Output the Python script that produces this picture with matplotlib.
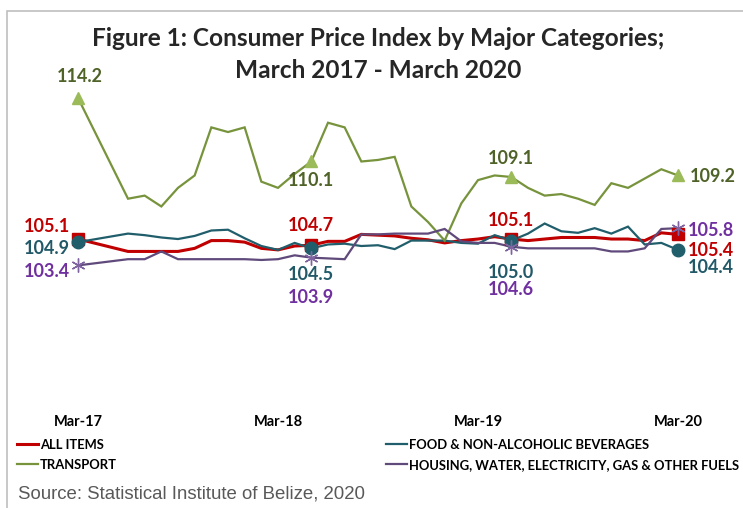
import pandas as pd
import matplotlib.pyplot as plt
from matplotlib.patches import Rectangle


# monthly periods Mar-17 .. Mar-20, Apr-17 and May-17 have no data
MONTHS = pd.period_range("2017-03", "2020-03", freq="M")
DATA_MONTHS = [m for m in MONTHS if str(m) not in ("2017-04", "2017-05")]
LABEL_MONTHS = ["2017-03", "2018-05", "2019-05", "2020-03"]
TICK_MONTHS = ["2017-03", "2018-03", "2019-03", "2020-03"]
TICK_LABELS = ["Mar-17", "Mar-18", "Mar-19", "Mar-20"]

all_items = [105.1, 104.3, 104.3, 104.3, 104.3, 104.5, 105.0, 105.0, 104.9, 104.5,
             104.4, 104.65, 104.7, 104.95, 104.95, 105.4, 105.35, 105.3, 105.15, 105.05,
             104.85, 105.0, 105.1, 105.25, 105.1, 105.0, 105.1, 105.2, 105.2, 105.2,
             105.1, 105.1, 105.0, 105.5, 105.4]
food = [104.9, 105.45, 105.35, 105.2, 105.1, 105.3, 105.65, 105.7, 105.15, 104.65,
        104.4, 104.85, 104.5, 104.75, 104.8, 104.65, 104.7, 104.45, 105.0, 105.0,
        105.0, 104.85, 104.8, 105.35, 105.0, 105.45, 106.1, 105.6, 105.5, 105.8,
        105.45, 105.9, 104.75, 104.85, 104.4]
transport = [114.2, 107.7, 107.9, 107.2, 108.4, 109.2, 112.3, 112.0, 112.3, 108.8,
             108.4, 109.3, 110.1, 112.6, 112.3, 110.1, 110.2, 110.4, 107.2, 106.2,
             105.0, 107.4, 108.9, 109.2, 109.1, 108.4, 107.9, 108.0, 107.7, 107.3,
             108.7, 108.4, 109.0, 109.6, 109.2]
housing = [103.4, 103.8, 103.8, 104.3, 103.8, 103.8, 103.8, 103.8, 103.8, 103.75,
           103.8, 104.05, 103.9, 103.85, 103.8, 105.4, 105.4, 105.45, 105.45, 105.45,
           105.75, 104.95, 104.85, 104.85, 104.6, 104.5, 104.5, 104.5, 104.5, 104.5,
           104.3, 104.3, 104.5, 105.75, 105.8]

plt.rcParams["font.family"] = ["Lato", "DejaVu Sans"]

x = [list(MONTHS.astype(str)).index(str(m)) for m in DATA_MONTHS]
df = pd.DataFrame({"x": x, "all": all_items, "food": food,
                   "transport": transport, "housing": housing})
marked = df[[str(m) in LABEL_MONTHS for m in DATA_MONTHS]]

fig = plt.figure(figsize=(7.43, 5.08), dpi=100)
fig.patches.append(Rectangle((7 / 743, -0.1), 1.2, (508 - 11) / 508 + 0.1,
                             transform=fig.transFigure, fill=False,
                             edgecolor="#bfbfbf", linewidth=1.2))
ax = fig.add_axes([28 / 743, 108 / 508, 700 / 743, 330 / 508])

series = [
    ("all", "ALL ITEMS", "#c00000", "#c00000", "#c00000", "s", 2.2, 9),
    ("food", "FOOD & NON-ALCOHOLIC BEVERAGES", "#215e6c", "#215e6c", "#215968", "o", 1.6, 9),
    ("transport", "TRANSPORT", "#77933c", "#9bbb59", "#4f6228", "^", 1.6, 9),
    ("housing", "HOUSING, WATER, ELECTRICITY, GAS & OTHER FUELS", "#604a7b", "#8064a2", "#7030a0", (6, 2, 0), 1.6, 10),
]

# label offsets in pixels for the four marked months
offsets = {
    "all": [(-8, 13, "right"), (0, 20, "center"), (0, 19, "center"), (10, -16, "left")],
    "food": [(-8, -6, "right"), (0, -26, "center"), (0, -32, "center"), (10, -18, "left")],
    "transport": [(2, 21, "center"), (0, -19, "center"), (0, 19, "center"), (12, -1, "left")],
    "housing": [(-8, -6, "right"), (0, -40, "center"), (0, -43, "center"), (10, -2, "left")],
}

handles = {}
for key, label, color, mcolor, tcolor, marker, lw, ms in series:
    line, = ax.plot(df["x"], df[key], color=color, linewidth=lw, label=label,
                    solid_joinstyle="miter", zorder=2)
    handles[key] = line
    ax.plot(marked["x"], marked[key], linestyle="none", marker=marker,
            markersize=ms, color=mcolor, markeredgewidth=1.0, zorder=3)
    for (xv, yv), (dx, dy, ha) in zip(zip(marked["x"], marked[key]), offsets[key]):
        ax.annotate(f"{yv:.1f}", (xv, yv), xytext=(dx, dy), textcoords="offset pixels",
                    ha=ha, va="center", color=tcolor, fontsize=13, fontweight="bold")

ax.set_xlim(-3, 39)
ax.set_ylim(94.72, 116.0)
ax.set_xticks([list(MONTHS.astype(str)).index(m) for m in TICK_MONTHS])
ax.set_xticklabels(TICK_LABELS, fontsize=10.5, fontweight="bold")
ax.tick_params(axis="x", length=0, pad=11)
ax.set_yticks([])
for side in ax.spines.values():
    side.set_visible(False)

fig.text(378 / 743, 1 - 38 / 508, "Figure 1: Consumer Price Index by Major Categories;",
         ha="center", va="center", fontsize=17.6, fontweight="bold", color="#262626")
fig.text(378 / 743, 1 - 70 / 508, "March 2017 - March 2020",
         ha="center", va="center", fontsize=17.6, fontweight="bold", color="#262626")

fig.legend([handles["all"], handles["transport"], handles["food"], handles["housing"]],
           ["ALL ITEMS", "TRANSPORT", "FOOD & NON-ALCOHOLIC BEVERAGES",
            "HOUSING, WATER, ELECTRICITY, GAS & OTHER FUELS"],
           ncol=2, loc="upper left", bbox_to_anchor=(17 / 743, 1 - 439 / 508),
           frameon=False, prop={"weight": "bold", "size": 9.4},
           handlelength=1.6, handletextpad=0.15, columnspacing=20.6, labelspacing=0.6,
           borderpad=0, borderaxespad=0)

fig.text(18 / 743, 1 - 494 / 508, "Source: Statistical Institute of Belize, 2020",
         ha="left", va="center", fontsize=13.4, color="#595959", family="Liberation Sans")

fig.savefig("out.png", dpi=100)
